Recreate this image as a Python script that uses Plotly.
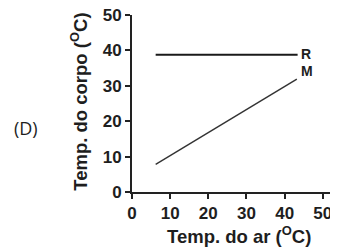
import plotly.graph_objects as go

# Data
r_x = [6.2, 43.4]
r_y = [38.8, 38.8]
m_x = [6.2, 43.2]
m_y = [7.8, 31.9]
x_ticks = [0, 10, 20, 30, 40, 50]
y_ticks = [0, 10, 20, 30, 40, 50]

font_fam = "Liberation Sans, Arial, sans-serif"
tc = "#1e1e1e"

fig = go.Figure()
fig.add_trace(go.Scatter(x=r_x, y=r_y, mode="lines", line=dict(color="#1a1a1a", width=2), showlegend=False))
fig.add_trace(go.Scatter(x=m_x, y=m_y, mode="lines", line=dict(color="#333333", width=1.4), showlegend=False))

fig.add_annotation(x=r_x[-1], y=r_y[-1], text="<b>R</b>", showarrow=False, xanchor="left", yanchor="middle",
                   xshift=1, yshift=1, font=dict(size=14, color=tc))
fig.add_annotation(x=m_x[-1], y=m_y[-1], text="<b>M</b>", showarrow=False, xanchor="left", yanchor="bottom",
                   xshift=2, yshift=-2, font=dict(size=14, color=tc))
fig.add_annotation(x=-0.522, y=0.362, xref="paper", yref="paper", text="(D)", showarrow=False,
                   xanchor="center", yanchor="middle",
                   font=dict(size=18, color=tc, family="Open Sans"))
fig.add_annotation(x=0.527, y=-0.243, xref="paper", yref="paper",
                   text="<b>Temp. do ar (<sup>O</sup>C)</b>", showarrow=False,
                   xanchor="center", yanchor="middle", font=dict(size=18.5, color=tc))
fig.add_annotation(x=-0.261, y=0.51, xref="paper", yref="paper",
                   text="<b>Temp. do corpo (<sup>O</sup>C)</b>", showarrow=False, textangle=-90,
                   xanchor="center", yanchor="middle", font=dict(size=18.5, color=tc))

fig.update_layout(
    width=330, height=239,
    margin=dict(l=124, r=3, t=7, b=55, autoexpand=False),
    plot_bgcolor="white", paper_bgcolor="white",
    font=dict(family=font_fam, color=tc),
)
fig.update_xaxes(range=[0, 53.2], tickvals=x_ticks, ticktext=[f"<b>{v}</b>" for v in x_ticks],
                 showgrid=False, zeroline=False, ticklabeloverflow="allow", automargin=False,
                 showline=True, linecolor="#222", linewidth=2, ticks="outside", ticklen=5, tickwidth=2,
                 tickcolor="#222", tickfont=dict(size=17, color=tc))
fig.update_yaxes(range=[0, 50], tickvals=y_ticks, ticktext=[f"<b>{v}</b>" for v in y_ticks],
                 showgrid=False, zeroline=False, ticklabeloverflow="allow", automargin=False,
                 showline=True, linecolor="#222", linewidth=2, ticks="outside", ticklen=5, tickwidth=2,
                 tickcolor="#222", tickfont=dict(size=17, color=tc))

fig.write_html("out.html")
